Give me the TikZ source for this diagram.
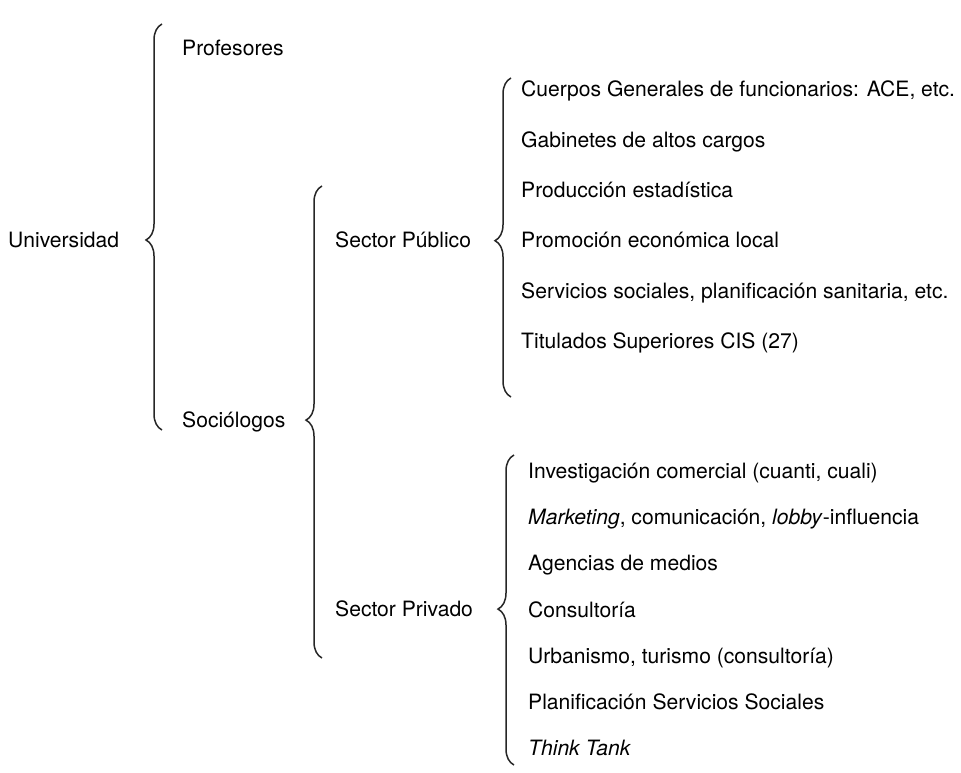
\documentclass[tikz,border=0pt]{standalone}
\usepackage{fontspec}
\setmainfont{TeX Gyre Heros}
\usepackage{tikz}
\usetikzlibrary{decorations.pathreplacing}
\tikzset{
  rama/.style = {anchor=west, inner sep=0pt, text height=15.2pt, text depth=0pt,
  font=\fontsize{21.1}{25}\selectfont},
  llave/.style = {decorate, decoration={brace, amplitude=16pt, aspect=#1},
  line width=1.5pt, black!85},
  llave/.default = 0.5
}

\begin{document}
\begin{tikzpicture}[x=1pt, y=-1pt]
  \useasboundingbox (0,0) rectangle (961,773);
  \node [rama] (univ) at (8,240) {Universidad};
  \node [rama] (prof) at (182,48) {Profesores};
  \node [rama] (soc) at (182,420) {Sociólogos};
  \node [rama] (pub) at (335,240) {Sector Público};
  \node [rama] (priv) at (335,609) {Sector Privado};
  % sector publico
  \foreach \t [count=\i from 0] in {{Cuerpos Generales de funcionarios: ACE, etc.},
      {Gabinetes de altos cargos}, {Producción estadística},
      {Promoción económica local},
      {Servicios sociales, planificación sanitaria, etc.},
      {Titulados Superiores CIS (27)}}
    \node [rama] (pub\i) at (521,89+50.4*\i) {\t};
  % sector privado
  \foreach \t [count=\i from 0] in {{Investigación comercial (cuanti, cuali)},
      {\textit{Marketing}, comunicación, \textit{lobby}-influencia},
      {Agencias de medios}, {Consultoría},
      {Urbanismo, turismo (consultoría)},
      {Planificación Servicios Sociales}, {\textit{Think Tank}}}
    \node [rama] (priv\i) at (528,471+46.17*\i) {\t};
  % llaves
  \coordinate (u-top) at (162,24);
  \coordinate (u-bot) at (162,430);
  \coordinate (s-top) at (322,186);
  \coordinate (s-bot) at (322,658);
  \coordinate (pub-top) at (511,78);
  \coordinate (pub-bot) at (511,397);
  \coordinate (priv-top) at (514,455);
  \coordinate (priv-bot) at (514,765);
  \draw [llave=0.468] (u-bot) -- (u-top);
  \draw [llave=0.504] (s-bot) -- (s-top);
  \draw [llave=0.49] (pub-bot) -- (pub-top);
  \draw [llave=0.503] (priv-bot) -- (priv-top);
\end{tikzpicture}
\end{document}
